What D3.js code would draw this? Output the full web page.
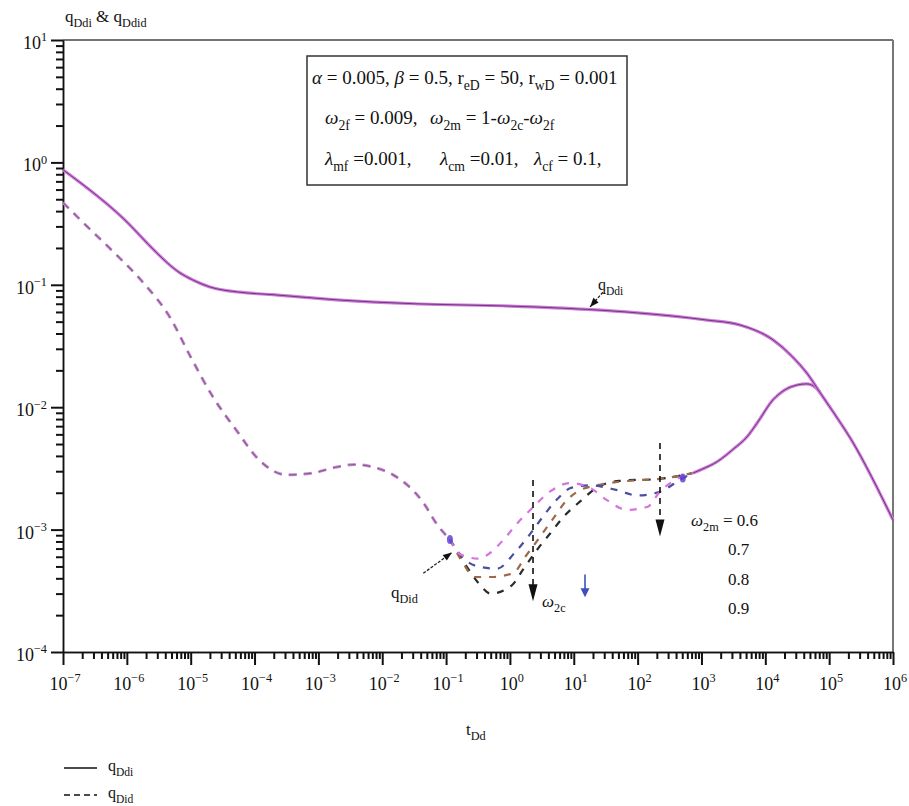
<!DOCTYPE html>
<html>
<head>
<meta charset="utf-8">
<script src="https://cdn.jsdelivr.net/npm/d3@7"></script>
<style>
  body { margin: 0; background: #fff; }
  text { font-family: "Liberation Serif", "DejaVu Serif", serif; fill: #111; }
</style>
</head>
<body>
<div id="chart"></div>
<script>
// qDdi (solid)
var tDdi = [1e-7, 8.7e-7, 2.95e-6, 4.3e-6, 6.8e-6, 1.1e-5, 2e-5, 5.9e-5, 1.95e-4, 2.2e-3, 0.032, 1, 16, 100, 1230, 4000, 13200, 26900, 44700, 72400, 114800, 214000, 1e6];
var qDdi = [0.87, 0.35, 0.182, 0.151, 0.125, 0.109, 0.096, 0.087, 0.083, 0.075, 0.070, 0.067, 0.063, 0.059, 0.0515, 0.047, 0.0355, 0.0257, 0.019, 0.0131, 0.0092, 0.0056, 0.0012];

// qDid, part shared by all curves (dashed)
var tDidEarly = [1e-7, 1.86e-7, 5.9e-7, 1.78e-6, 4.8e-6, 9.8e-6, 2.24e-5, 5.4e-5, 1.1e-4, 3.2e-4, 8.3e-4, 1.7e-3, 3.7e-3, 7.9e-3, 0.0148, 0.0437, 0.0724, 0.115];
var qDidEarly = [0.47, 0.34, 0.19, 0.105, 0.0536, 0.0262, 0.0121, 0.0063, 0.00385, 0.0028, 0.0029, 0.0032, 0.0034, 0.0032, 0.0028, 0.00167, 0.0011, 0.00083];

// qDid branches, one per omega2m
var omega2m = [0.6, 0.7, 0.8, 0.9];
var t06 = [0.115, 0.2, 0.316, 0.5, 1.07, 1.6, 2.75, 4.27, 7.2, 12.6, 23, 52, 224, 741];
var q06 = [0.00083, 0.00052, 0.00037, 0.0003, 0.00035, 0.00047, 0.0007, 0.00093, 0.0013, 0.0017, 0.0022, 0.0025, 0.0026, 0.0029];
var t07 = [0.115, 0.178, 0.28, 0.5, 1.12, 1.74, 2.95, 4.6, 7.8, 12.6, 23, 48, 110, 224, 741];
var q07 = [0.00083, 0.00055, 0.00041, 0.00041, 0.00044, 0.0006, 0.00087, 0.0012, 0.00174, 0.0021, 0.0023, 0.00245, 0.00254, 0.0026, 0.0029];
var t08 = [0.115, 0.178, 0.316, 0.63, 1.2, 2.04, 3.16, 5.1, 9.3, 17.8, 48, 98, 224, 490, 741];
var q08 = [0.00083, 0.0006, 0.0005, 0.00048, 0.00065, 0.00091, 0.00124, 0.0017, 0.0022, 0.0023, 0.0021, 0.0019, 0.00204, 0.0026, 0.0029];
var t09 = [0.115, 0.166, 0.316, 0.5, 0.83, 1.35, 2.24, 4.27, 8.7, 17.8, 33, 68, 141, 224, 417, 741];
var q09 = [0.00083, 0.00063, 0.00058, 0.00065, 0.00085, 0.00115, 0.0015, 0.00205, 0.0024, 0.0022, 0.00174, 0.00145, 0.00153, 0.00204, 0.0026, 0.0029];

// qDid, late part where the curves meet again
var tDidLate = [741, 1000, 1780, 3090, 5130, 7410, 13200, 20000, 31600, 44700, 63100, 72400];
var qDidLate = [0.0029, 0.0031, 0.0036, 0.0045, 0.0057, 0.0074, 0.0115, 0.0138, 0.0152, 0.0155, 0.0143, 0.0131];

var xTicks = [1e-7, 1e-6, 1e-5, 1e-4, 1e-3, 1e-2, 1e-1, 1, 10, 100, 1e3, 1e4, 1e5, 1e6];
var yTicks = [1e-4, 1e-3, 1e-2, 1e-1, 1, 10];

var branches = [
    { w: "0.6", t: t06, q: q06, color: "#2b2b2b" },
    { w: "0.7", t: t07, q: q07, color: "#9c6a4c" },
    { w: "0.8", t: t08, q: q08, color: "#4b4f9e" },
    { w: "0.9", t: t09, q: q09, color: "#d474dc" }
];

var W = 909, H = 806;
var pLeft = 63, pRight = 893, pTop = 40, pBottom = 652;

var svg = d3.select("#chart").append("svg")
    .attr("width", W)
    .attr("height", H)
    .style("background", "#fff");

var x = d3.scaleLog().domain([1e-7, 1e6]).range([pLeft, pRight]);
var y = d3.scaleLog().domain([1e-4, 10]).range([pBottom, pTop]);

// text with sub / sup / italic pieces
function rich(sel, parts, size) {
    var off = 0;
    parts.forEach(function (p) {
        var kind = p[1];
        var ts = sel.append("tspan").text(p[0]);
        var target = 0;
        if (kind === "sub") { target = size * 0.3; ts.attr("font-size", size * 0.72); }
        if (kind === "sup") { target = -size * 0.42; ts.attr("font-size", size * 0.68); }
        if (kind === "i") ts.attr("font-style", "italic");
        if (target - off !== 0) ts.attr("dy", target - off);
        off = target;
    });
    return sel;
}

function minors(dom) {
    var out = [];
    for (var e = Math.round(Math.log10(dom[0])); e < Math.round(Math.log10(dom[1])); e++)
        for (var k = 2; k <= 9; k++) out.push(k * Math.pow(10, e));
    return out;
}

// frame (top and right)
svg.append("line").attr("x1", pLeft).attr("x2", pRight).attr("y1", pTop).attr("y2", pTop)
    .attr("stroke", "#444").attr("stroke-width", 1.5);
svg.append("line").attr("x1", pRight).attr("x2", pRight).attr("y1", pTop).attr("y2", pBottom)
    .attr("stroke", "#777").attr("stroke-width", 2);

// x axis
svg.append("g")
    .attr("transform", "translate(0," + pBottom + ")")
    .call(d3.axisBottom(x).tickValues(xTicks).tickSize(13).tickSizeOuter(0).tickFormat(""));
svg.append("g")
    .attr("transform", "translate(0," + pBottom + ")")
    .call(d3.axisBottom(x).tickValues(minors(x.domain())).tickSize(7).tickSizeOuter(0).tickFormat(""));

// y axis
svg.append("g")
    .attr("transform", "translate(" + pLeft + ",0)")
    .call(d3.axisLeft(y).tickValues(yTicks).tickSize(12).tickSizeOuter(0).tickFormat(""));
svg.append("g")
    .attr("transform", "translate(" + pLeft + ",0)")
    .call(d3.axisLeft(y).tickValues(minors(y.domain())).tickSize(7).tickSizeOuter(0).tickFormat(""));

svg.selectAll(".domain").attr("stroke", "#111").attr("stroke-width", 1.5);
svg.selectAll(".tick line").attr("stroke", "#111").attr("stroke-width", 2);

function expLabel(v) {
    var e = Math.round(Math.log10(v));
    return e < 0 ? "\u2212" + (-e) : "" + e;
}

xTicks.forEach(function (v) {
    var t = svg.append("text")
        .attr("x", x(v) + 2)
        .attr("y", pBottom + 38)
        .attr("text-anchor", "middle")
        .attr("font-size", 18);
    rich(t, [["10", ""], [expLabel(v), "sup"]], 18);
});

yTicks.forEach(function (v) {
    var t = svg.append("text")
        .attr("x", 47)
        .attr("y", y(v) + 9)
        .attr("text-anchor", "end")
        .attr("font-size", 18);
    rich(t, [["10", ""], [expLabel(v), "sup"]], 18);
});

// axis titles
rich(svg.append("text").attr("x", 65).attr("y", 22).attr("font-size", 17),
    [["q", ""], ["Ddi", "sub"], [" & q", ""], ["Ddid", "sub"]], 17);
rich(svg.append("text").attr("x", 466).attr("y", 735).attr("font-size", 17),
    [["t", ""], ["Dd", "sub"]], 17);

// curves
var line = d3.line()
    .x(function (d) { return x(d[0]); })
    .y(function (d) { return y(d[1]); })
    .curve(d3.curveMonotoneX);

var plot = svg.append("g");

// shared early dashed part
plot.append("path").datum(d3.zip(tDidEarly, qDidEarly))
    .attr("d", line).attr("fill", "none")
    .attr("stroke", "#d586e0").attr("stroke-width", 3).attr("stroke-dasharray", "8,7");
plot.append("path").datum(d3.zip(tDidEarly, qDidEarly))
    .attr("d", line).attr("fill", "none")
    .attr("stroke", "#7a6a7e").attr("stroke-width", 1.2).attr("stroke-dasharray", "8,7");

branches.forEach(function (b) {
    plot.append("path").datum(d3.zip(b.t, b.q))
        .attr("d", line).attr("fill", "none")
        .attr("stroke", b.color).attr("stroke-width", 2.2)
        .attr("stroke-dasharray", "7,8");
});

// solid curves
[d3.zip(tDidLate, qDidLate), d3.zip(tDdi, qDdi)].forEach(function (pts) {
    plot.append("path").datum(pts)
        .attr("d", line).attr("fill", "none")
        .attr("stroke", "#d27ade").attr("stroke-width", 3.2);
    plot.append("path").datum(pts)
        .attr("d", line).attr("fill", "none")
        .attr("stroke", "#6b3a78").attr("stroke-width", 1);
});

// small marks left on the curves
[[0.115, 0.00083], [510, 0.00264]].forEach(function (m) {
    plot.append("ellipse")
        .attr("cx", x(m[0])).attr("cy", y(m[1]))
        .attr("rx", 3).attr("ry", 4.5)
        .attr("fill", "#5a3ad0").attr("opacity", 0.8);
});

// arrows
function downArrow(t, q1, q2, color, dashed, headLen, headW) {
    var x0 = x(t), y1 = y(q1), y2 = y(q2);
    svg.append("line")
        .attr("x1", x0).attr("x2", x0).attr("y1", y1).attr("y2", y2 - headLen + 2)
        .attr("stroke", color).attr("stroke-width", 1.6)
        .attr("stroke-dasharray", dashed ? "6,5" : null);
    svg.append("path")
        .attr("d", "M" + (x0 - headW) + "," + (y2 - headLen) + "L" + (x0 + headW) + "," + (y2 - headLen) + "L" + x0 + "," + y2 + "Z")
        .attr("fill", color);
}
downArrow(2.3, 0.00254, 0.00026, "#111", true, 17, 4.5);
downArrow(224, 0.0051, 0.00088, "#111", true, 17, 4.5);
downArrow(15, 0.00043, 0.00028, "#3d4fc0", false, 9, 4.5);

function pointer(t1, q1, t2, q2) {
    var x1 = x(t1), y1 = y(q1), x2 = x(t2), y2 = y(q2);
    var a = Math.atan2(y2 - y1, x2 - x1), L = 9, w = 3.5;
    svg.append("line")
        .attr("x1", x1).attr("y1", y1).attr("x2", x2).attr("y2", y2)
        .attr("stroke", "#222").attr("stroke-width", 1.3).attr("stroke-dasharray", "3,1.5");
    var bx = x2 - L * Math.cos(a), by = y2 - L * Math.sin(a);
    svg.append("path")
        .attr("d", "M" + x2 + "," + y2 +
            "L" + (bx - w * Math.sin(a)) + "," + (by + w * Math.cos(a)) +
            "L" + (bx + w * Math.sin(a)) + "," + (by - w * Math.cos(a)) + "Z")
        .attr("fill", "#111");
}
pointer(0.044, 0.00044, 0.124, 0.00065);
pointer(28.6, 0.087, 18, 0.066);

// labels on the plot
rich(svg.append("text").attr("x", 391).attr("y", 598).attr("font-size", 17),
    [["q", ""], ["Did", "sub"]], 17);
rich(svg.append("text").attr("x", 598).attr("y", 290).attr("font-size", 16),
    [["q", ""], ["Ddi", "sub"]], 16);
rich(svg.append("text").attr("x", 542).attr("y", 607).attr("font-size", 17),
    [["\u03c9", "i"], ["2c", "sub"]], 17);
rich(svg.append("text").attr("x", 691).attr("y", 526).attr("font-size", 17),
    [["\u03c9", "i"], ["2m", "sub"], [" = " + omega2m[0], ""]], 17);
omega2m.slice(1).forEach(function (w, i) {
    svg.append("text").attr("x", 728).attr("y", 555 + i * 29.5)
        .attr("font-size", 17).text(w);
});

// parameter box
svg.append("rect")
    .attr("x", 307).attr("y", 56).attr("width", 320).attr("height", 129)
    .attr("fill", "#fff").attr("stroke", "#333").attr("stroke-width", 1.5);

var fs = 19;
rich(svg.append("text").attr("x", 312).attr("y", 84).attr("font-size", fs),
    [["\u03b1", "i"], [" = 0.005, ", ""], ["\u03b2", "i"], [" = 0.5, r", ""], ["eD", "sub"],
     [" = 50, r", ""], ["wD", "sub"], [" = 0.001", ""]], fs);
rich(svg.append("text").attr("x", 325).attr("y", 124).attr("font-size", fs),
    [["\u03c9", "i"], ["2f", "sub"], [" = 0.009,", ""]], fs);
rich(svg.append("text").attr("x", 430).attr("y", 124).attr("font-size", fs),
    [["\u03c9", "i"], ["2m", "sub"], [" = 1-", ""], ["\u03c9", "i"], ["2c", "sub"], ["-", ""], ["\u03c9", "i"], ["2f", "sub"]], fs);
rich(svg.append("text").attr("x", 325).attr("y", 165).attr("font-size", fs),
    [["\u03bb", "i"], ["mf", "sub"], [" =0.001,", ""]], fs);
rich(svg.append("text").attr("x", 440).attr("y", 165).attr("font-size", fs),
    [["\u03bb", "i"], ["cm", "sub"], [" =0.01,", ""]], fs);
rich(svg.append("text").attr("x", 534).attr("y", 165).attr("font-size", fs),
    [["\u03bb", "i"], ["cf", "sub"], [" = 0.1,", ""]], fs);

// legend
var legend = svg.append("g");
[["Ddi", null, 768], ["Did", "6,4", 795]].forEach(function (l) {
    legend.append("line")
        .attr("x1", 64).attr("x2", 97).attr("y1", l[2]).attr("y2", l[2])
        .attr("stroke", "#111").attr("stroke-width", 1.6)
        .attr("stroke-dasharray", l[1]);
    rich(legend.append("text").attr("x", 108).attr("y", l[2] + 3).attr("font-size", 16),
        [["q", ""], [l[0], "sub"]], 16);
});
</script>
</body>
</html>
